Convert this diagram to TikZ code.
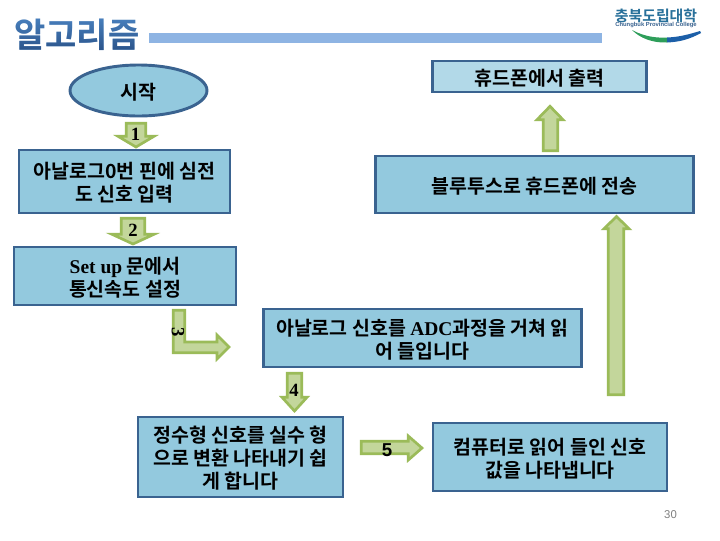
\documentclass[tikz,border=0pt]{standalone}
\usepackage{fontspec}
\usetikzlibrary{shapes.geometric,fadings}
\setmainfont{Noto Sans CJK KR}[BoldFont={Noto Sans CJK KR Bold}]
\newfontfamily\latf{Liberation Serif}
\newfontfamily\sanf{Liberation Sans}
\newcommand{\lat}[1]{{\latf\bfseries #1}}
\newcommand{\ft}[1]{\raisebox{-6.5pt}[0pt][0pt]{\begin{tabular}{@{}c@{}}#1\end{tabular}}}
% block arrows: vertical {shaft L}{shaft R}{wing L}{wing R}{tail y}{head y}{tip y}
\newcommand{\vblock}[7]{\draw[blockarr] (#1,#5) -- (#2,#5) -- (#2,#6) -- (#4,#6) -- ({(#3+#4)/2},#7) -- (#3,#6) -- (#1,#6) -- cycle;}
\definecolor{boxfill}{HTML}{93C9DE}
\definecolor{boxlite}{HTML}{B2D9E8}
\definecolor{boxline}{HTML}{3A6390}
\definecolor{arrfill}{HTML}{C3D69B}
\definecolor{arrline}{HTML}{9BBB59}
\definecolor{barblue}{HTML}{8EB4E3}
\definecolor{titlelite}{HTML}{4A82C0}
\definecolor{titledark}{HTML}{2A5288}
\definecolor{logoblue}{HTML}{28709A}
\definecolor{logogreen}{HTML}{2E9E5A}
\definecolor{logonavy}{HTML}{1C5FA8}
\tikzset{
  px/.style={x=0.75pt,y=-0.75pt},
  flowbox/.style={draw=boxline,fill=boxfill,line width=2.2pt,align=center,inner sep=0pt,font=\fontsize{14.6}{16.8}\selectfont\bfseries},
  blockarr/.style={draw=arrline,fill=arrfill,line width=2pt,line join=miter},
  arrlabel/.style={inner sep=0pt,font=\fontsize{14}{15}\selectfont\latf\bfseries},
  titletext/.style={anchor=west,inner sep=0pt,font=\fontsize{25.5}{27}\selectfont\bfseries},
}
\begin{document}
\begin{tikzpicture}[px]
\useasboundingbox (0,0) rectangle (720,540);
\fill[white] (0,0) rectangle (720,540);
% title and bar
\node[titletext,text=titlelite] (title) at (14,34.5) {알고리즘};
\begin{scope}
  \path[scope fading=north] (0,16) rectangle (150,52);
  \node[titletext,text=titledark] (titleshade) at (14,34.5) {알고리즘};
\end{scope}
\node[fill=barblue,inner sep=0pt,minimum width=339.75pt,minimum height=7.5pt] (bar) at (375.5,38) {};
% logo
\node[inner sep=0pt,text=logoblue,font=\fontsize{11.2}{12}\selectfont\bfseries] (logoko) at (656,15.5) {충북도립대학};
\node[inner sep=0pt,text=boxline,font=\fontsize{4.4}{5}\selectfont\sanf\bfseries] (logoen) at (656,25) {Chungbuk Provincial College};
\fill[logogreen] (632,30) .. controls (645,37) and (657,38) .. (667,37.5) -- (667,42.5) .. controls (652,43) and (640,38) .. (632,30) -- cycle;
\fill[logonavy] (667,37.5) .. controls (680,37) and (690,34) .. (700,31) -- (701,33) .. controls (690,39) and (680,42) .. (667,42.5) -- cycle;
% boxes
\node[flowbox,ellipse,minimum width=102.75pt,minimum height=38.25pt] (start) at (138.5,90.5) {\ft{시작}};
\node[flowbox,fill=boxlite,minimum width=160.5pt,minimum height=23.25pt] (out) at (539.5,76.5) {\ft{휴드폰에서 출력}};
\node[flowbox,minimum width=238.5pt,minimum height=42.75pt] (bt) at (534.5,184.5) {\ft{블루투스로 휴드폰에 전송}};
\node[flowbox,minimum width=158.25pt,minimum height=47.25pt] (ecg) at (124.5,181.5) {\ft{아날로그0번 핀에 심전\\도 신호 입력}};
\node[flowbox,minimum width=166.5pt,minimum height=43.5pt] (setup) at (125,276) {\ft{\lat{Set up} 문에서\\통신속도 설정}};
\node[flowbox,minimum width=238.5pt,minimum height=43.5pt] (adc) at (422.5,338) {\ft{아날로그 신호를 \lat{ADC}과정을 거쳐 읽\\어 들입니다}};
\node[flowbox,minimum width=153.75pt,minimum height=60pt] (real) at (240.5,457) {\ft{정수형 신호를 실수 형\\으로 변환 나타내기 쉽\\게 합니다}};
\node[flowbox,minimum width=175.5pt,minimum height=51pt] (pc) at (550,457) {\ft{컴퓨터로 읽어 들인 신호\\값을 나타냅니다}};
% arrows
\vblock{126.3}{145.7}{118}{154}{123.3}{136.3}{147}
\node[arrlabel] (l1) at (135.5,134) {1};
\vblock{121.3}{144.7}{112}{154}{218.3}{234.3}{244}
\node[arrlabel] (l2) at (133,230) {2};
\draw[blockarr] (173.3,310.3) -- (184.7,310.3) -- (184.7,342) -- (217,342) -- (217,335) -- (229,347) -- (217,359) -- (217,352.7) -- (173.3,352.7) -- cycle;
\node[arrlabel,rotate=-90] (l3) at (178,332) {3};
\vblock{287.3}{301.7}{282}{307}{373.3}{397.3}{411}
\node[arrlabel] (l4) at (294,390) {4};
\draw[blockarr] (361.3,441.3) -- (408.3,441.3) -- (408.3,436) -- (422,448) -- (408.3,460) -- (408.3,453.7) -- (361.3,453.7) -- cycle;
\node[inner sep=0pt,font=\fontsize{14}{15}\selectfont\sanf\bfseries] (l5) at (387,450) {5};
\vblock{543.3}{557.7}{537}{563}{150.7}{119.7}{106.3}
\vblock{608.3}{623.7}{604}{629}{394.7}{228.7}{216.5}
% page number
\node[inner sep=0pt,text=black!50,font=\fontsize{8.5}{10}\selectfont\sanf] (page) at (670.5,514.5) {30};
\end{tikzpicture}
\end{document}
